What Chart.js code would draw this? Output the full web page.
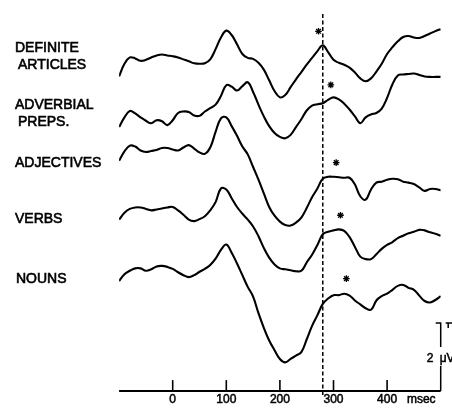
<!DOCTYPE html>
<html>
<head>
<meta charset="utf-8">
<script src="https://cdn.jsdelivr.net/npm/chart.js@4.4.1/dist/chart.umd.min.js"></script>
<style>
  html, body { margin: 0; padding: 0; background: #fff; }
  #wrap { width: 452px; height: 412px; }
</style>
</head>
<body>
<div id="wrap"><canvas id="c" width="452" height="412"></canvas></div>
<script>
// ---- data (times in msec, amplitudes in display units, positive = up) ----
const times = [-100,-90,-80,-70,-60,-50,-40,-30,-20,-10,0,10,20,30,40,50,60,70,80,90,100,110,120,130,140,150,160,170,180,190,200,210,220,230,240,250,260,270,280,290,300,310,320,330,340,350,360,370,380,390,400,410,420,430,440,450,460,470,480,490,500];

const definiteArticles = [-18,-5,1.5,0.5,-2,-1,1.5,3.5,4.5,3.5, 2.7,1.5,-0.5,-2.5,-4.5,-5,-4.5,-0.5,10,22, 29,24.5,15,5,1,0,-4,-11,-22,-33, -39.5,-37,-29,-21,-13.5,-6,1,8,14,7, -1,-4,-6,-9,-14,-20,-23,-20,-13,-5, 5,12,18,22.5,23.5,22,21.5,23.5,26,28.5, 30.5];
const adverbialPreps = [-10,0,6.5,4,0,-3.5,-6,-3,-4,-8, -3,4.5,6,5.5,2,1.5,6,9.5,13,22, 33,31.5,27.5,32,36,26,13,1,-9,-16, -20,-21.5,-18,-10,-2,7,12,13.5,14.5,18, 20.5,18.5,14,8,1,-6,0,3,4.5,9, 20,34,43,44,44.5,45,43.5,42,41.5,41.5, 41.5];
const adjectives = [-11.5,-2,4,3,-1,-2.5,-1.5,-0.5,1.5,1.5, 0,-1,2,4.5,1,-3,-4.5,2,18,32, 33,24,14,3,-5,-18,-31,-45,-59,-68, -74,-77.5,-78,-75,-70,-60,-49,-40,-30,-28, -28,-28.5,-29,-29,-36,-48,-51.5,-41,-34,-33, -31,-30,-30.5,-33,-34,-35.5,-39,-42.5,-40.5,-40.5, -42];
const verbs = [-10,-3,1,2.5,2.5,1,-0.5,0.5,1.5,2.5, 3,-0.5,-5,-10,-11.5,-9.5,-6.5,-0.5,8,22, 21,12,3,-4,-10,-17,-27,-39,-49,-56, -60,-61,-62,-63,-62.5,-54,-46,-36,-25,-22.5, -21,-20,-21.5,-28,-38,-48,-50.5,-50.5,-45.5,-40, -36,-33,-29,-26.5,-24,-22.5,-20.5,-21,-23,-24.5, -26.5];
const nouns = [-11,-4,-0.5,2,2,-0.5,1,4,4.5,3.5, 1.5,-2,-5,-7,-5,-1.5,1.5,5.5,12,21, 26.5,18,7,-5,-17,-27,-44,-59,-72,-82, -91,-94.5,-91,-87.5,-84,-71,-57,-46,-34.5,-29, -25.5,-25.5,-24,-26,-31,-35,-39,-40.5,-31,-26.5, -24,-20,-16,-15,-18,-20,-26,-31.5,-33,-30.5, -26.5];

const seriesNames = ["DEFINITE ARTICLES", "ADVERBIAL PREPS.", "ADJECTIVES", "VERBS", "NOUNS"];
const asteriskTimes = [272, 295, 305, 313, 324];
const asteriskAmps = [28.3, 33.3, -13.5, -5.5, -8.5];
const markerTime = 280;
const tickLabels = [0, 100, 200, 300, 400];
const unitLabel = "msec";
const calibrationNumber = "2";
const calibrationUnit = "\u03bcV";

// ---- layout (not data) ----
const rowBaselines = [55, 115, 148, 210, 272];
const labelLines = [
  [["DEFINITE", 15, 52], ["ARTICLES", 18, 68.5]],
  [["ADVERBIAL", 15, 109], ["PREPS.", 18, 126]],
  [["ADJECTIVES", 15, 166.5]],
  [["VERBS", 15, 222.5]],
  [["NOUNS", 16, 283]]
];

const allSeries = [definiteArticles, adverbialPreps, adjectives, verbs, nouns];
const datasets = allSeries.map((vals, i) => ({
  label: seriesNames[i],
  data: times.map((t, k) => ({ x: t, y: rowBaselines[i] - vals[k] })),
  borderColor: '#000',
  borderWidth: 2.1,
  pointRadius: 0,
  tension: 0.4,
  fill: false
}));
datasets.push({
  type: 'scatter',
  label: 'asterisks',
  data: asteriskTimes.map((t, i) => ({ x: t, y: rowBaselines[i] - asteriskAmps[i] })),
  pointStyle: 'star',
  radius: 3.3,
  borderColor: '#000',
  borderWidth: 1.3,
  backgroundColor: '#000'
});

function strokeFill(ctx, txt, x, y, w) {
  ctx.fillText(txt, x, y);
  ctx.lineWidth = w;
  ctx.strokeText(txt, x, y);
}

const decor = {
  id: 'decor',
  afterDatasetsDraw(chart) {
    const ctx = chart.ctx;
    const xs = chart.scales.x, ys = chart.scales.y;
    const axisY = ys.getPixelForValue(396);
    ctx.save();
    ctx.strokeStyle = '#000';
    ctx.fillStyle = '#000';
    // dashed marker line
    ctx.lineWidth = 1.5;
    ctx.setLineDash([4, 2.5]);
    const mx = xs.getPixelForValue(markerTime);
    ctx.beginPath();
    ctx.moveTo(mx, ys.getPixelForValue(9));
    ctx.lineTo(mx, ys.getPixelForValue(402));
    ctx.stroke();
    ctx.setLineDash([]);
    // time axis
    ctx.lineWidth = 2;
    ctx.beginPath();
    ctx.moveTo(xs.getPixelForValue(-100), axisY);
    ctx.lineTo(xs.getPixelForValue(500), axisY);
    ctx.stroke();
    ctx.lineWidth = 1.6;
    tickLabels.forEach(v => {
      const px = xs.getPixelForValue(v);
      ctx.beginPath();
      ctx.moveTo(px, axisY);
      ctx.lineTo(px, axisY - 11);
      ctx.stroke();
    });
    ctx.font = '12px "Liberation Sans", Arial, sans-serif';
    ctx.textAlign = 'center';
    ctx.textBaseline = 'alphabetic';
    tickLabels.forEach(v => {
      strokeFill(ctx, String(v), xs.getPixelForValue(v), axisY + 12, 0.5);
    });
    ctx.textAlign = 'left';
    strokeFill(ctx, unitLabel, xs.getPixelForValue(437), axisY + 12, 0.5);
    // calibration bar
    const cx = xs.getPixelForValue(500);
    ctx.lineWidth = 1.5;
    ctx.beginPath();
    ctx.moveTo(cx - 5, axisY - 68);
    ctx.lineTo(cx, axisY - 68);
    ctx.lineTo(cx, axisY - 44);
    ctx.moveTo(cx, axisY - 25);
    ctx.lineTo(cx, axisY);
    ctx.moveTo(cx + 5, axisY - 68);
    ctx.lineTo(cx + 12, axisY - 68);
    ctx.moveTo(cx + 7.5, axisY - 68);
    ctx.lineTo(cx + 7.5, axisY - 63);
    ctx.stroke();
    ctx.textAlign = 'left';
    strokeFill(ctx, calibrationNumber, cx - 14, axisY - 29, 0.5);
    strokeFill(ctx, calibrationUnit, cx - 1, axisY - 29, 0.5);
    // row labels
    ctx.font = '14px "Liberation Sans", Arial, sans-serif';
    labelLines.forEach(lines => lines.forEach(([txt, lx, ly]) => {
      strokeFill(ctx, txt, lx, ly, 0.6);
    }));
    ctx.restore();
  }
};

new Chart(document.getElementById('c'), {
  type: 'line',
  data: { datasets },
  options: {
    responsive: false,
    animation: false,
    devicePixelRatio: 1,
    layout: { padding: { left: 119.1, right: 11.3, top: 0, bottom: 0 } },
    plugins: { legend: { display: false }, tooltip: { enabled: false } },
    scales: {
      x: { type: 'linear', min: -100, max: 500, display: false },
      y: { type: 'linear', min: 0, max: 412, reverse: true, display: false }
    }
  },
  plugins: [decor]
});
</script>
</body>
</html>
